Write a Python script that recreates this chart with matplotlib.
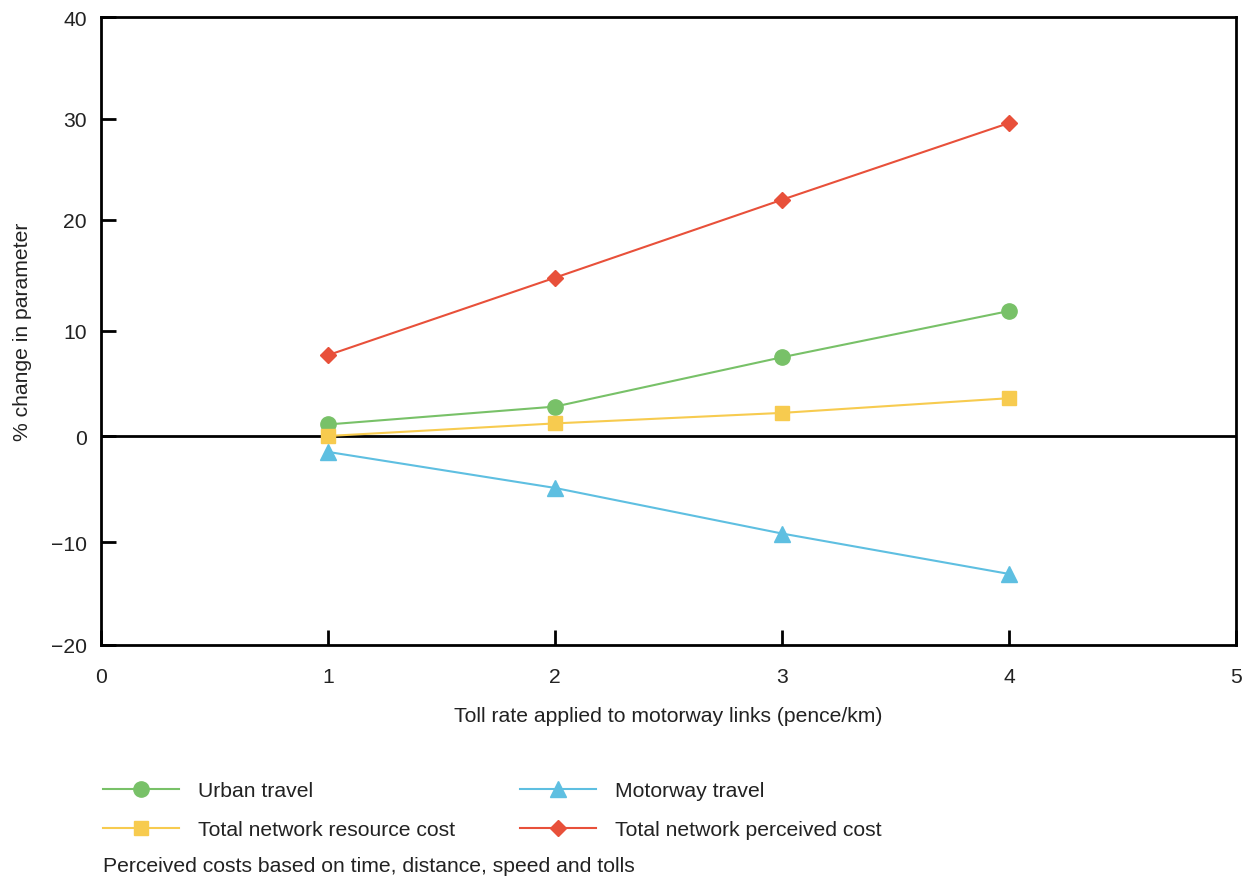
import numpy as np
import matplotlib
matplotlib.use("Agg")
import matplotlib.pyplot as plt
from matplotlib.lines import Line2D

plt.rcParams['font.family'] = ['Liberation Sans', 'DejaVu Sans']

# ---- data ----
toll_rate = [1, 2, 3, 4]
urban_travel = [1.1, 2.8, 7.5, 11.8]
resource_cost = [0.0, 1.2, 2.2, 3.6]
motorway_travel = [-1.5, -4.9, -9.2, -13.1]
perceived_cost = [7.7, 14.8, 22.0, 29.6]

x_ticks = [0, 1, 2, 3, 4, 5]
y_ticks = [-20, -10, 0, 10, 20, 30, 40]
y_tick_labels = ['\u221220', '\u221210', '0', '10', '20', '30', '40']
# the original y axis is slightly uneven; relative tick positions (0..1 from bottom)
y_tick_pos = [0.0, 0.1640, 0.3328, 0.5, 0.6768, 0.8376, 1.0]

COL_GREEN = '#78C168'
COL_YELLOW = '#F7CB4F'
COL_BLUE = '#5EBFE1'
COL_RED = '#E8503A'
TXT = '#222222'
FS = 15.2


def fwd(v):
    return np.interp(v, y_ticks, y_tick_pos)


def inv(p):
    return np.interp(p, y_tick_pos, y_ticks)


W, H = 1249, 879
fig = plt.figure(figsize=(W / 100, H / 100), dpi=100)
ax = fig.add_axes([101 / W, 1 - 646 / H, (1236 - 101) / W, (646 - 18) / H])
ax.set_yscale('function', functions=(fwd, inv))

lw = 1.5
styles = [
    dict(color=COL_GREEN, marker='o', ms=11),
    dict(color=COL_YELLOW, marker='s', ms=10.5),
    dict(color=COL_BLUE, marker='^', ms=11.5),
    dict(color=COL_RED, marker='D', ms=8.5),
]
series = [urban_travel, resource_cost, motorway_travel, perceived_cost]
for vals, st in zip(series, styles):
    ax.plot(toll_rate, vals, lw=lw, zorder=3, **st)
ax.axhline(0, color='black', lw=2.0, zorder=2)

ax.set_xlim(0, 5)
ax.set_ylim(-20, 40)
ax.set_xticks(x_ticks)
ax.set_xticklabels([str(t) for t in x_ticks])
ax.set_yticks(y_ticks)
ax.set_yticklabels(y_tick_labels)
ax.yaxis.set_minor_locator(matplotlib.ticker.NullLocator())
ax.xaxis.set_minor_locator(matplotlib.ticker.NullLocator())

for s in ax.spines.values():
    s.set_linewidth(2.0)
ax.tick_params(direction='in', length=11, width=2.0, labelsize=FS,
               colors='black', labelcolor=TXT)
ax.tick_params(axis='y', pad=10)
ax.tick_params(axis='x', pad=16)

ax.set_xlabel('Toll rate applied to motorway links (pence/km)', fontsize=FS,
              color=TXT, labelpad=14)
ax.set_ylabel('% change in parameter', fontsize=FS, color=TXT, labelpad=14)

handles = [Line2D([], [], lw=lw, **st) for st in styles]
labels = ['Urban travel', 'Total network resource cost',
          'Motorway travel', 'Total network perceived cost']
leg = fig.legend(handles, labels, ncol=2, loc='upper left',
                 bbox_to_anchor=(103 / W, 1 - 782 / H), frameon=False,
                 fontsize=FS, handlelength=3.6, handletextpad=0.9,
                 columnspacing=3.05, labelspacing=0.95, borderaxespad=0,
                 borderpad=0)
for t in leg.get_texts():
    t.set_color(TXT)

fig.text(103 / W, 1 - 867 / H, 'Perceived costs based on time, distance, speed and tolls',
         fontsize=FS, color=TXT, va='center', ha='left')

fig.savefig('out.png', dpi=100)
